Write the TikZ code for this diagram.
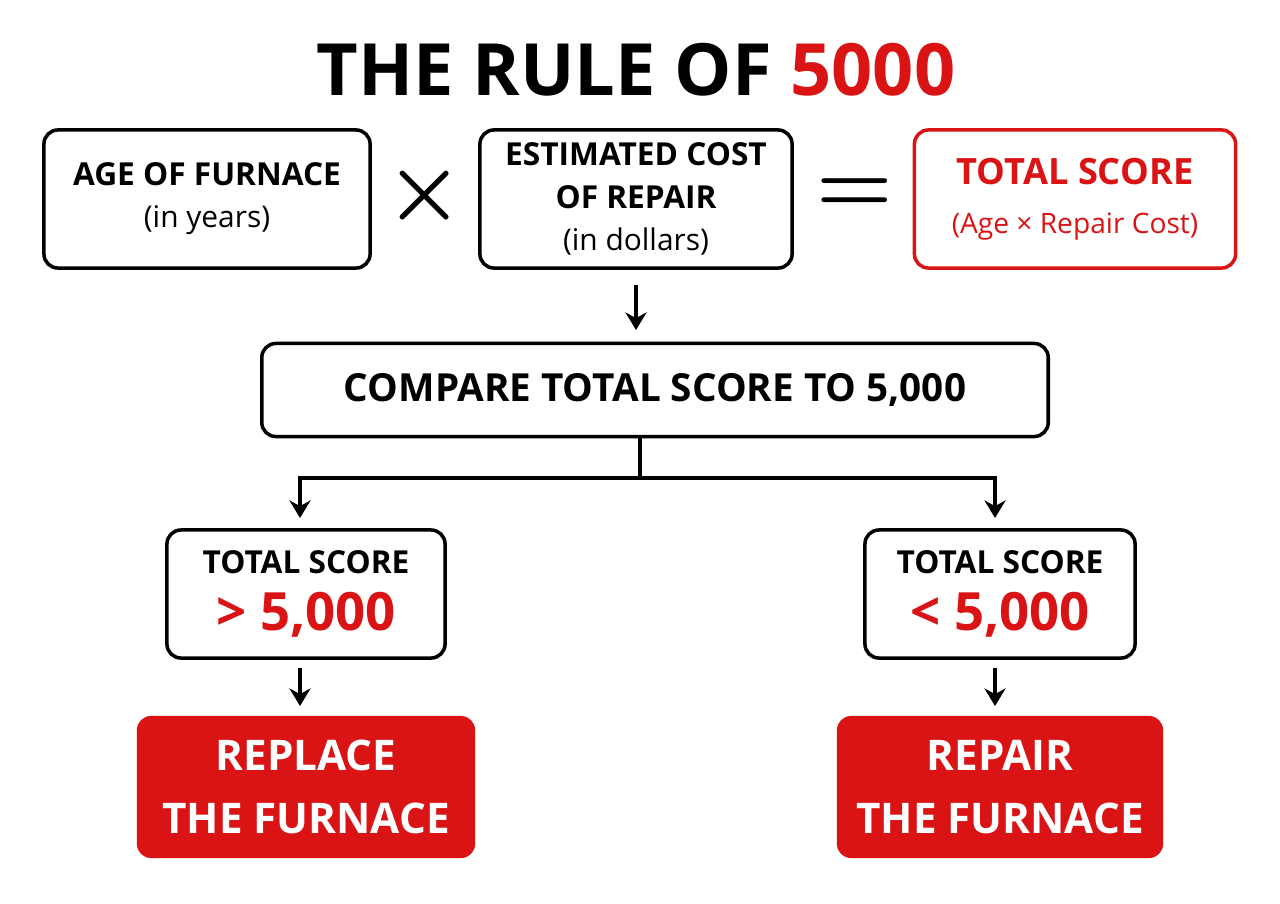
\documentclass[tikz,border=0pt]{standalone}
\usepackage{amsmath}
\usepackage{fontspec}
\setmainfont{Open Sans}
\usetikzlibrary{arrows.meta}
\definecolor{rulered}{RGB}{218,20,20}
\tikzset{
  box/.style={draw=black, line width=1pt, rounded corners=4pt, align=center, fill=white},
  redbox/.style={fill=rulered, rounded corners=4pt, align=center, text=white, font=\bfseries\fontsize{12}{18}\selectfont},
  flow/.style={line width=1pt, -{Stealth[length=5pt,width=6pt]}},
  link/.style={line width=1pt}
}
\begin{document}
\begin{tikzpicture}[x=0.01cm, y=-0.01cm]
\useasboundingbox[fill=white] (0,0) rectangle (1280,903);

\node[font=\bfseries\fontsize{20.5}{24}\selectfont] (title) at (636,70) {THE RULE OF \textcolor{rulered}{5000}};

% top row
\node[box, minimum width=3.26cm, minimum height=1.38cm] (age) at (207,199)
  {{\bfseries\fontsize{9}{13}\selectfont AGE OF FURNACE}\\{\fontsize{8.5}{11}\selectfont (in years)}};
\node[box, minimum width=3.12cm, minimum height=1.38cm] (cost) at (636,199)
  {{\bfseries\fontsize{9}{10.5}\selectfont ESTIMATED COST}\\{\bfseries\fontsize{9}{10.5}\selectfont OF REPAIR}\\{\fontsize{8.5}{10.5}\selectfont (in dollars)}};
\node[box, draw=rulered, minimum width=3.21cm, minimum height=1.38cm] (total) at (1075,199)
  {{\bfseries\fontsize{10.3}{14}\selectfont\color{rulered}TOTAL SCORE}\\[2pt]{\fontsize{8}{13}\selectfont\color{rulered}(Age × Repair Cost)}};
\node (times) at (425,196) {\fontsize{24}{24}\selectfont$\boldsymbol{\times}$};
\node (equals) at (855,196) {\fontsize{24}{24}\selectfont$\boldsymbol{=}$};

% compare
\node[box, minimum width=7.86cm, minimum height=0.93cm, font=\bfseries\fontsize{11}{14}\selectfont] (cmp) at (655,390) {COMPARE TOTAL SCORE TO 5,000};
\coordinate (cstart) at (636,285);
\coordinate (cend) at (636,330);
\draw[flow] (cstart) -- (cend);

% branches
\node[box, minimum width=2.78cm, minimum height=1.28cm] (gt) at (306,594)
  {{\bfseries\fontsize{9}{14}\selectfont TOTAL SCORE}\\[4pt]{\bfseries\fontsize{15}{23}\selectfont\color{rulered}> 5,000}};
\node[box, minimum width=2.70cm, minimum height=1.28cm] (lt) at (1000,594)
  {{\bfseries\fontsize{9}{14}\selectfont TOTAL SCORE}\\[4pt]{\bfseries\fontsize{15}{23}\selectfont\color{rulered}< 5,000}};
\coordinate (split) at (640,478);
\coordinate (lefttip) at (300,518);
\coordinate (righttip) at (995,518);
\draw[link] (cmp.south -| split) -- (split);
\draw[flow] (split) -| (lefttip);
\draw[flow] (split) -| (righttip);

% outcomes
\node[redbox, minimum width=3.38cm, minimum height=1.42cm] (replace) at (306,787) {REPLACE\\THE FURNACE};
\node[redbox, minimum width=3.26cm, minimum height=1.42cm] (repair) at (1000,787) {REPAIR\\THE FURNACE};
\coordinate (l1) at (300,668);
\coordinate (l2) at (300,706);
\coordinate (r1) at (995,668);
\coordinate (r2) at (995,706);
\draw[flow] (l1) -- (l2);
\draw[flow] (r1) -- (r2);
\end{tikzpicture}
\end{document}
